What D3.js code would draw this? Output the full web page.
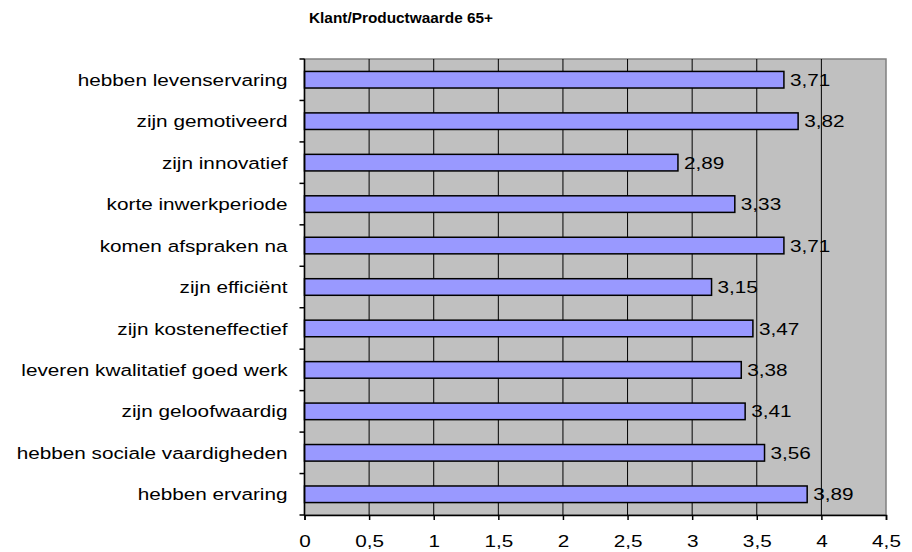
<!DOCTYPE html>
<html>
<head>
<meta charset="utf-8">
<script src="https://cdn.jsdelivr.net/npm/d3@7"></script>
<style>
	body { margin: 0; background: #fff; }
	svg { font-family: "Liberation Sans", Arial, sans-serif; }
</style>
</head>
<body>
<svg id="chart" width="912" height="552"></svg>
<script>
var categories = [
	"hebben levenservaring",
	"zijn gemotiveerd",
	"zijn innovatief",
	"korte inwerkperiode",
	"komen afspraken na",
	"zijn efficiënt",
	"zijn kosteneffectief",
	"leveren kwalitatief goed werk",
	"zijn geloofwaardig",
	"hebben sociale vaardigheden",
	"hebben ervaring"
];
var values = [3.71, 3.82, 2.89, 3.33, 3.71, 3.15, 3.47, 3.38, 3.41, 3.56, 3.89];
var xTicks = [0, 0.5, 1, 1.5, 2, 2.5, 3, 3.5, 4, 4.5];
var title = "Klant/Productwaarde 65+";

var svg = d3.select("#chart"),
	margin = {top: 59, right: 26, bottom: 37, left: 304.5},
	width = 912 - margin.left - margin.right,
	height = 552 - margin.top - margin.bottom,
	labelSize = "17px",
	stretch = 1.22; // text in the original is drawn wider than normal

var fmt = function(v) { return String(v).replace(".", ","); };

var x = d3.scaleLinear().domain([0, 4.5]).range([0, width]);
var y = d3.scaleBand().domain(categories).range([0, height]).paddingInner(0.6).paddingOuter(0.3);

svg.append("text")
	.attr("transform", "translate(401,23) scale(1.06,1)")
	.attr("text-anchor", "middle")
	.style("font-size", "14.5px")
	.style("font-weight", "bold")
	.text(title);

var g = svg.append("g").attr("transform", "translate(" + margin.left + "," + margin.top + ")");

// plot background
g.append("rect")
	.attr("width", width)
	.attr("height", height)
	.attr("fill", "#c0c0c0")
	.attr("stroke", "#808080")
	.attr("stroke-width", 1.5);

// vertical grid lines
g.append("g")
	.selectAll("line")
	.data(xTicks.slice(1, -1))
	.enter().append("line")
	.attr("x1", function(d) { return x(d); })
	.attr("x2", function(d) { return x(d); })
	.attr("y1", 0)
	.attr("y2", height)
	.attr("stroke", "#000")
	.attr("stroke-width", 1);

// bars
g.append("g")
	.selectAll("rect")
	.data(values)
	.enter().append("rect")
	.attr("x", 0)
	.attr("y", function(d, i) { return y(categories[i]); })
	.attr("width", function(d) { return x(d); })
	.attr("height", y.bandwidth())
	.attr("fill", "#9999ff")
	.attr("stroke", "#000")
	.attr("stroke-width", 1.5);

// value labels
g.append("g")
	.selectAll("text")
	.data(values)
	.enter().append("text")
	.attr("transform", function(d, i) {
		return "translate(" + (x(d) + 6) + "," + (y(categories[i]) + y.bandwidth() / 2) + ") scale(" + stretch + ",1)";
	})
	.attr("dy", "0.36em")
	.style("font-size", labelSize)
	.attr("fill", "#000")
	.text(fmt);

// x axis
var xAxis = d3.axisBottom(x)
	.tickValues(xTicks)
	.tickSize(5)
	.tickPadding(15)
	.tickFormat(fmt);

var gX = g.append("g")
	.attr("transform", "translate(0," + height + ")")
	.call(xAxis);
gX.select(".domain").attr("stroke", "#000").attr("stroke-width", 1.5);
gX.selectAll(".tick line").attr("stroke", "#000").attr("stroke-width", 1.5);
gX.selectAll("text")
	.attr("transform", "scale(" + stretch + ",1)")
	.style("font-size", labelSize)
	.attr("fill", "#000")
	.style("font-family", "Liberation Sans, Arial, sans-serif");

// y axis: ticks sit on the category boundaries
var boundaries = d3.range(categories.length + 1).map(function(i) { return i * height / categories.length; });
g.append("line")
	.attr("x1", 0).attr("x2", 0)
	.attr("y1", 0).attr("y2", height)
	.attr("stroke", "#000")
	.attr("stroke-width", 1.5);
g.append("g")
	.selectAll("line")
	.data(boundaries)
	.enter().append("line")
	.attr("x1", -5).attr("x2", 0)
	.attr("y1", function(d) { return d; })
	.attr("y2", function(d) { return d; })
	.attr("stroke", "#000")
	.attr("stroke-width", 1.5);

g.append("g")
	.selectAll("text")
	.data(categories)
	.enter().append("text")
	.attr("transform", function(d) {
		return "translate(-17," + (y(d) + y.bandwidth() / 2) + ") scale(" + stretch + ",1)";
	})
	.attr("dy", "0.36em")
	.attr("text-anchor", "end")
	.style("font-size", labelSize)
	.attr("fill", "#000")
	.text(function(d) { return d; });
</script>
</body>
</html>
